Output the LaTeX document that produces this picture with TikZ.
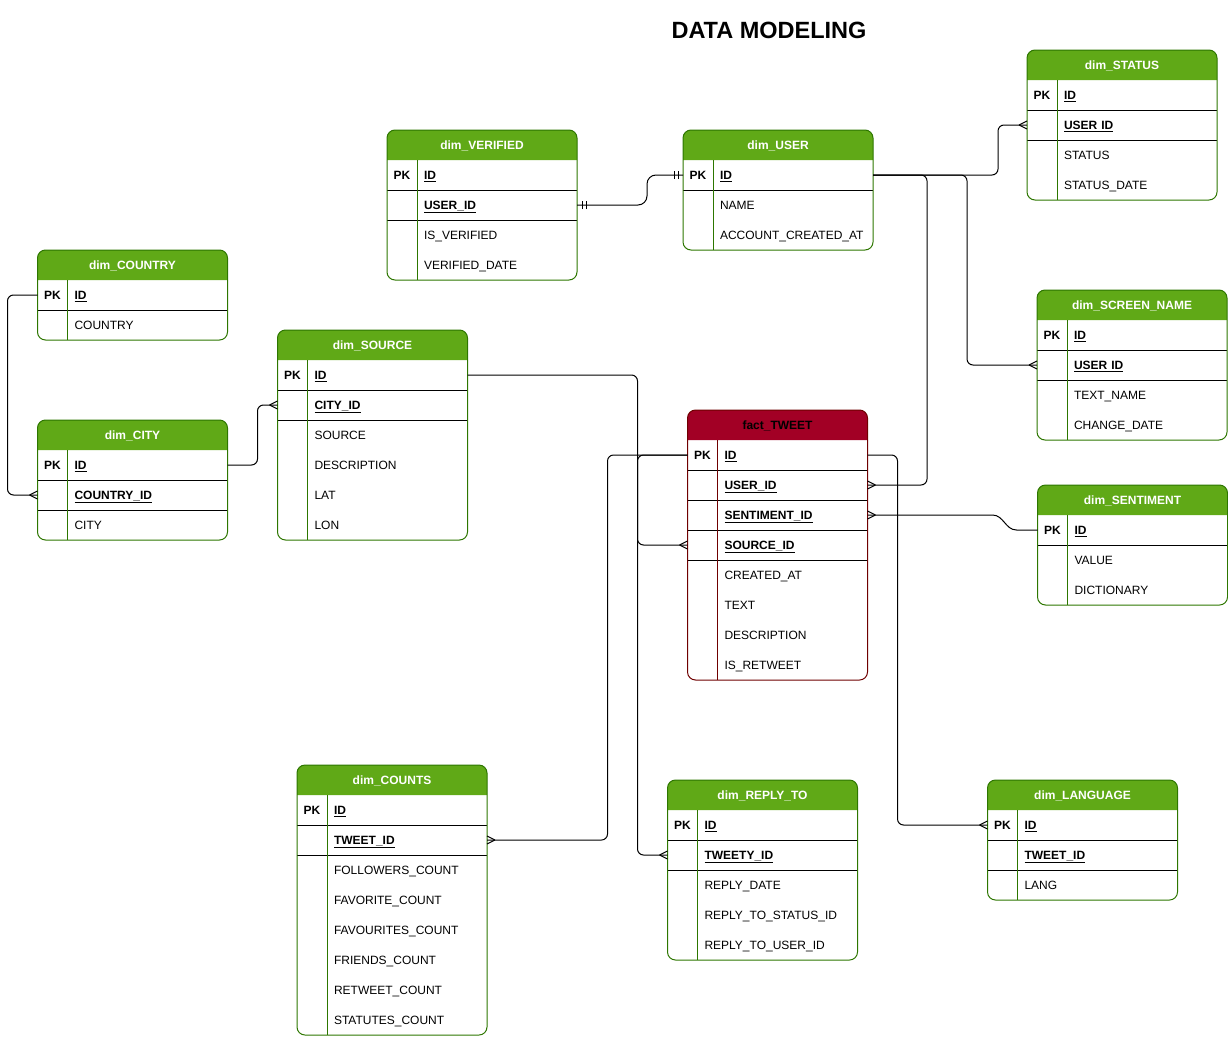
\documentclass[tikz,border=0pt,12pt]{standalone}
\usepackage{fontspec}
\setmainfont{Liberation Sans}
\usetikzlibrary{positioning,backgrounds,decorations.markings}

\begin{document}
\begin{tikzpicture}[x=1pt,y=-1pt,
  head/.style={minimum width=190pt,minimum height=30pt,inner sep=0pt,outer sep=0pt,text height=8.6pt,text depth=0pt,text=white,font=\bfseries},
  row/.style={text width=190pt,minimum height=30pt,inner sep=0pt,outer sep=0pt,text height=8.6pt,text depth=0pt,align=left,execute at begin node={\hspace*{37pt}}},
  keyrow/.style={row,font=\bfseries},
  pk/.style={inner sep=0pt,text height=8.6pt,text depth=0pt,font=\bfseries},
  sep/.style={line width=1pt},
  rel/.style={line width=1pt,rounded corners=6pt},
  crowfoot/.style={postaction={decorate,decoration={markings,mark=at position 1 with {\draw[line width=1pt,sharp corners] (-8pt,0pt) -- (0pt,4pt) (-8pt,0pt) -- (0pt,-4pt);}}}},
  mandone/.style={postaction={decorate,decoration={markings,
    mark=at position 0 with {\draw[line width=1pt,sharp corners] (5pt,-4pt) -- (5pt,4pt) (9pt,-4pt) -- (9pt,4pt);},
    mark=at position 1 with {\draw[line width=1pt,sharp corners] (-5pt,-4pt) -- (-5pt,4pt) (-9pt,-4pt) -- (-9pt,4pt);}}}}]
\definecolor{dimgreen}{RGB}{96,169,23}
\definecolor{dimline}{RGB}{45,118,0}
\definecolor{factred}{RGB}{162,0,37}
\definecolor{factline}{RGB}{111,0,0}
\useasboundingbox (0,0) rectangle (1228,1036);
\node[font=\fontsize{23.5}{28}\selectfont\bfseries] (title) at (769,30) {DATA MODELING};

\node[head] (sta) at (1122,65) {dim\_STATUS};
\node[keyrow,below=0pt of sta] (sta-id) {\underline{ID}};
\node[keyrow,below=0pt of sta-id] (sta-user) {\underline{USER ID}};
\node[row,below=0pt of sta-user] (sta-status) {STATUS};
\node[row,below=0pt of sta-status] (sta-date) {STATUS\_DATE};
\node[pk] (sta-pk) at ([xshift=15pt]sta-id.west) {PK};
\draw[sep] (sta-id.south west) -- (sta-id.south east) (sta-user.south west) -- (sta-user.south east);
\draw[sep,dimline] ([xshift=30pt]sta-id.north west) -- ([xshift=30pt]sta-date.south west);
\begin{scope}[on background layer]
\fill[dimgreen,rounded corners=8pt] (sta.south west) |- (sta.north east) -- (sta.south east);
\end{scope}
\draw[sep,dimline,rounded corners=8pt] (sta.north west) rectangle (sta-date.south east);

\node[head] (ver) at (482,145) {dim\_VERIFIED};
\node[keyrow,below=0pt of ver] (ver-id) {\underline{ID}};
\node[keyrow,below=0pt of ver-id] (ver-user) {\underline{USER\_ID}};
\node[row,below=0pt of ver-user] (ver-isver) {IS\_VERIFIED};
\node[row,below=0pt of ver-isver] (ver-date) {VERIFIED\_DATE};
\node[pk] (ver-pk) at ([xshift=15pt]ver-id.west) {PK};
\draw[sep] (ver-id.south west) -- (ver-id.south east) (ver-user.south west) -- (ver-user.south east);
\draw[sep,dimline] ([xshift=30pt]ver-id.north west) -- ([xshift=30pt]ver-date.south west);
\begin{scope}[on background layer]
\fill[dimgreen,rounded corners=8pt] (ver.south west) |- (ver.north east) -- (ver.south east);
\end{scope}
\draw[sep,dimline,rounded corners=8pt] (ver.north west) rectangle (ver-date.south east);

\node[head] (usr) at (778,145) {dim\_USER};
\node[keyrow,below=0pt of usr] (usr-id) {\underline{ID}};
\node[row,below=0pt of usr-id] (usr-name) {NAME};
\node[row,below=0pt of usr-name] (usr-created) {ACCOUNT\_CREATED\_AT};
\node[pk] (usr-pk) at ([xshift=15pt]usr-id.west) {PK};
\draw[sep] (usr-id.south west) -- (usr-id.south east);
\draw[sep,dimline] ([xshift=30pt]usr-id.north west) -- ([xshift=30pt]usr-created.south west);
\begin{scope}[on background layer]
\fill[dimgreen,rounded corners=8pt] (usr.south west) |- (usr.north east) -- (usr.south east);
\end{scope}
\draw[sep,dimline,rounded corners=8pt] (usr.north west) rectangle (usr-created.south east);

\node[head] (cty) at (132.5,265) {dim\_COUNTRY};
\node[keyrow,below=0pt of cty] (cty-id) {\underline{ID}};
\node[row,below=0pt of cty-id] (cty-country) {COUNTRY};
\node[pk] (cty-pk) at ([xshift=15pt]cty-id.west) {PK};
\draw[sep] (cty-id.south west) -- (cty-id.south east);
\draw[sep,dimline] ([xshift=30pt]cty-id.north west) -- ([xshift=30pt]cty-country.south west);
\begin{scope}[on background layer]
\fill[dimgreen,rounded corners=8pt] (cty.south west) |- (cty.north east) -- (cty.south east);
\end{scope}
\draw[sep,dimline,rounded corners=8pt] (cty.north west) rectangle (cty-country.south east);

\node[head] (scr) at (1132,305) {dim\_SCREEN\_NAME};
\node[keyrow,below=0pt of scr] (scr-id) {\underline{ID}};
\node[keyrow,below=0pt of scr-id] (scr-user) {\underline{USER ID}};
\node[row,below=0pt of scr-user] (scr-text) {TEXT\_NAME};
\node[row,below=0pt of scr-text] (scr-change) {CHANGE\_DATE};
\node[pk] (scr-pk) at ([xshift=15pt]scr-id.west) {PK};
\draw[sep] (scr-id.south west) -- (scr-id.south east) (scr-user.south west) -- (scr-user.south east);
\draw[sep,dimline] ([xshift=30pt]scr-id.north west) -- ([xshift=30pt]scr-change.south west);
\begin{scope}[on background layer]
\fill[dimgreen,rounded corners=8pt] (scr.south west) |- (scr.north east) -- (scr.south east);
\end{scope}
\draw[sep,dimline,rounded corners=8pt] (scr.north west) rectangle (scr-change.south east);

\node[head] (src) at (372.5,345) {dim\_SOURCE};
\node[keyrow,below=0pt of src] (src-id) {\underline{ID}};
\node[keyrow,below=0pt of src-id] (src-city) {\underline{CITY\_ID}};
\node[row,below=0pt of src-city] (src-source) {SOURCE};
\node[row,below=0pt of src-source] (src-desc) {DESCRIPTION};
\node[row,below=0pt of src-desc] (src-lat) {LAT};
\node[row,below=0pt of src-lat] (src-lon) {LON};
\node[pk] (src-pk) at ([xshift=15pt]src-id.west) {PK};
\draw[sep] (src-id.south west) -- (src-id.south east) (src-city.south west) -- (src-city.south east);
\draw[sep,dimline] ([xshift=30pt]src-id.north west) -- ([xshift=30pt]src-lon.south west);
\begin{scope}[on background layer]
\fill[dimgreen,rounded corners=8pt] (src.south west) |- (src.north east) -- (src.south east);
\end{scope}
\draw[sep,dimline,rounded corners=8pt] (src.north west) rectangle (src-lon.south east);

\node[head] (cit) at (132.5,435) {dim\_CITY};
\node[keyrow,below=0pt of cit] (cit-id) {\underline{ID}};
\node[keyrow,below=0pt of cit-id] (cit-country) {\underline{COUNTRY\_ID}};
\node[row,below=0pt of cit-country] (cit-city) {CITY};
\node[pk] (cit-pk) at ([xshift=15pt]cit-id.west) {PK};
\draw[sep] (cit-id.south west) -- (cit-id.south east) (cit-country.south west) -- (cit-country.south east);
\draw[sep,dimline] ([xshift=30pt]cit-id.north west) -- ([xshift=30pt]cit-city.south west);
\begin{scope}[on background layer]
\fill[dimgreen,rounded corners=8pt] (cit.south west) |- (cit.north east) -- (cit.south east);
\end{scope}
\draw[sep,dimline,rounded corners=8pt] (cit.north west) rectangle (cit-city.south east);

\node[head,minimum width=180pt,text=black] (tw) at (777.5,425) {fact\_TWEET};
\node[keyrow,text width=180pt,below=0pt of tw] (tw-id) {\underline{ID}};
\node[keyrow,text width=180pt,below=0pt of tw-id] (tw-user) {\underline{USER\_ID}};
\node[keyrow,text width=180pt,below=0pt of tw-user] (tw-sent) {\underline{SENTIMENT\_ID}};
\node[keyrow,text width=180pt,below=0pt of tw-sent] (tw-source) {\underline{SOURCE\_ID}};
\node[row,text width=180pt,below=0pt of tw-source] (tw-created) {CREATED\_AT};
\node[row,text width=180pt,below=0pt of tw-created] (tw-text) {TEXT};
\node[row,text width=180pt,below=0pt of tw-text] (tw-desc) {DESCRIPTION};
\node[row,text width=180pt,below=0pt of tw-desc] (tw-retweet) {IS\_RETWEET};
\node[pk] (tw-pk) at ([xshift=15pt]tw-id.west) {PK};
\draw[sep] (tw-id.south west) -- (tw-id.south east) (tw-user.south west) -- (tw-user.south east)
  (tw-sent.south west) -- (tw-sent.south east) (tw-source.south west) -- (tw-source.south east);
\draw[sep,factline] ([xshift=30pt]tw-id.north west) -- ([xshift=30pt]tw-retweet.south west);
\begin{scope}[on background layer]
\fill[factred,rounded corners=8pt] (tw.south west) |- (tw.north east) -- (tw.south east);
\end{scope}
\draw[sep,factline,rounded corners=8pt] (tw.north west) rectangle (tw-retweet.south east);

\node[head] (sen) at (1132.5,500) {dim\_SENTIMENT};
\node[keyrow,below=0pt of sen] (sen-id) {\underline{ID}};
\node[row,below=0pt of sen-id] (sen-value) {VALUE};
\node[row,below=0pt of sen-value] (sen-dict) {DICTIONARY};
\node[pk] (sen-pk) at ([xshift=15pt]sen-id.west) {PK};
\draw[sep] (sen-id.south west) -- (sen-id.south east);
\draw[sep,dimline] ([xshift=30pt]sen-id.north west) -- ([xshift=30pt]sen-dict.south west);
\begin{scope}[on background layer]
\fill[dimgreen,rounded corners=8pt] (sen.south west) |- (sen.north east) -- (sen.south east);
\end{scope}
\draw[sep,dimline,rounded corners=8pt] (sen.north west) rectangle (sen-dict.south east);

\node[head] (cnt) at (392,780) {dim\_COUNTS};
\node[keyrow,below=0pt of cnt] (cnt-id) {\underline{ID}};
\node[keyrow,below=0pt of cnt-id] (cnt-tweet) {\underline{TWEET\_ID}};
\node[row,below=0pt of cnt-tweet] (cnt-followers) {FOLLOWERS\_COUNT};
\node[row,below=0pt of cnt-followers] (cnt-favorite) {FAVORITE\_COUNT};
\node[row,below=0pt of cnt-favorite] (cnt-favourites) {FAVOURITES\_COUNT};
\node[row,below=0pt of cnt-favourites] (cnt-friends) {FRIENDS\_COUNT};
\node[row,below=0pt of cnt-friends] (cnt-retweet) {RETWEET\_COUNT};
\node[row,below=0pt of cnt-retweet] (cnt-statutes) {STATUTES\_COUNT};
\node[pk] (cnt-pk) at ([xshift=15pt]cnt-id.west) {PK};
\draw[sep] (cnt-id.south west) -- (cnt-id.south east) (cnt-tweet.south west) -- (cnt-tweet.south east);
\draw[sep,dimline] ([xshift=30pt]cnt-id.north west) -- ([xshift=30pt]cnt-statutes.south west);
\begin{scope}[on background layer]
\fill[dimgreen,rounded corners=8pt] (cnt.south west) |- (cnt.north east) -- (cnt.south east);
\end{scope}
\draw[sep,dimline,rounded corners=8pt] (cnt.north west) rectangle (cnt-statutes.south east);

\node[head] (rep) at (762.5,795) {dim\_REPLY\_TO};
\node[keyrow,below=0pt of rep] (rep-id) {\underline{ID}};
\node[keyrow,below=0pt of rep-id] (rep-tweet) {\underline{TWEETY\_ID}};
\node[row,below=0pt of rep-tweet] (rep-date) {REPLY\_DATE};
\node[row,below=0pt of rep-date] (rep-status) {REPLY\_TO\_STATUS\_ID};
\node[row,below=0pt of rep-status] (rep-user) {REPLY\_TO\_USER\_ID};
\node[pk] (rep-pk) at ([xshift=15pt]rep-id.west) {PK};
\draw[sep] (rep-id.south west) -- (rep-id.south east) (rep-tweet.south west) -- (rep-tweet.south east);
\draw[sep,dimline] ([xshift=30pt]rep-id.north west) -- ([xshift=30pt]rep-user.south west);
\begin{scope}[on background layer]
\fill[dimgreen,rounded corners=8pt] (rep.south west) |- (rep.north east) -- (rep.south east);
\end{scope}
\draw[sep,dimline,rounded corners=8pt] (rep.north west) rectangle (rep-user.south east);

\node[head] (lan) at (1082.5,795) {dim\_LANGUAGE};
\node[keyrow,below=0pt of lan] (lan-id) {\underline{ID}};
\node[keyrow,below=0pt of lan-id] (lan-tweet) {\underline{TWEET\_ID}};
\node[row,below=0pt of lan-tweet] (lan-lang) {LANG};
\node[pk] (lan-pk) at ([xshift=15pt]lan-id.west) {PK};
\draw[sep] (lan-id.south west) -- (lan-id.south east) (lan-tweet.south west) -- (lan-tweet.south east);
\draw[sep,dimline] ([xshift=30pt]lan-id.north west) -- ([xshift=30pt]lan-lang.south west);
\begin{scope}[on background layer]
\fill[dimgreen,rounded corners=8pt] (lan.south west) |- (lan.north east) -- (lan.south east);
\end{scope}
\draw[sep,dimline,rounded corners=8pt] (lan.north west) rectangle (lan-lang.south east);

\draw[rel,mandone,rounded corners=9pt] (ver-user.east) -- ++(70,0) |- (usr-id.west);
\draw[rel,crowfoot] (usr-id.east) -- ++(125,0) |- (sta-user.west);
\draw[rel,crowfoot] (usr-id.east) -- ++(94,0) |- (scr-user.west);
\draw[rel,crowfoot] (usr-id.east) -- ++(54,0) |- (tw-user.east);
\draw[rel,crowfoot] (cty-id.west) -- ++(-30,0) |- (cit-country.west);
\draw[rel,crowfoot] (cit-id.east) -- ++(30,0) |- (src-city.west);
\draw[rel,crowfoot] (src-id.east) -- ++(170,0) |- (tw-source.west);
\draw[rel,crowfoot,sharp corners] (sen-id.west) -- ++(-21,0) to[out=180,in=0] ++(-24,-15) -- (tw-sent.east);
\draw[rel,crowfoot] (tw-id.west) -- ++(-80,0) |- (cnt-tweet.east);
\draw[rel,crowfoot] (tw-id.west) -- ++(-50,0) |- (rep-tweet.west);
\draw[rel,crowfoot] (tw-id.east) -- ++(30,0) |- (lan-id.west);
\end{tikzpicture}
\end{document}
